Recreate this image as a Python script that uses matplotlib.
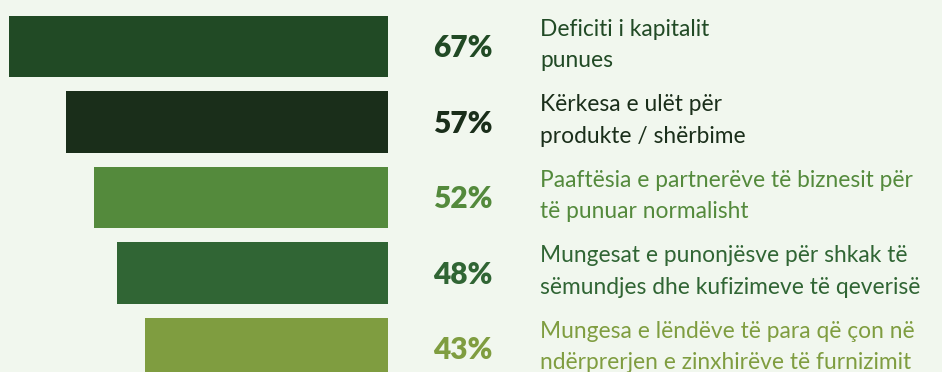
import matplotlib.pyplot as plt

labels = [
    "Deficiti i kapitalit\npunues",
    "Kërkesa e ulët për\nprodukte / shërbime",
    "Paaftësia e partnerëve të biznesit për\ntë punuar normalisht",
    "Mungesat e punonjësve për shkak të\nsëmundjes dhe kufizimeve të qeverisë",
    "Mungesa e lëndëve të para që çon në\nndërprerjen e zinxhirëve të furnizimit",
]
values = [67, 57, 52, 48, 43]
colors = ["#214a25", "#1a2e1a", "#548a3c", "#306534", "#7f9d40"]

bg = "#f1f7ee"
plt.rcParams['font.family'] = ['Lato', 'DejaVu Sans']

fig = plt.figure(figsize=(9.42, 3.72), dpi=100, facecolor=bg)
ax = fig.add_axes([0, 0, 1, 1])
ax.set_facecolor(bg)

y = list(range(len(values)))
# bars grow to the left from a common right edge at 0
ax.barh(y, [-v for v in values], left=0, height=0.81, color=colors)

for i, (v, lab, c) in enumerate(zip(values, labels, colors)):
    ax.text(7.9, i + 0.02, f"{v}%", color=c, fontsize=21.5, fontweight='heavy',
            va='center', ha='left')
    ax.text(26.9, i - 0.02, lab, color=c, fontsize=16.4, va='center', ha='left',
            linespacing=1.6)

ax.set_xlim(-68.67, 98.05)
ax.set_ylim(4.311, -0.616)
ax.axis('off')

fig.savefig("out.png", dpi=100, facecolor=bg)
